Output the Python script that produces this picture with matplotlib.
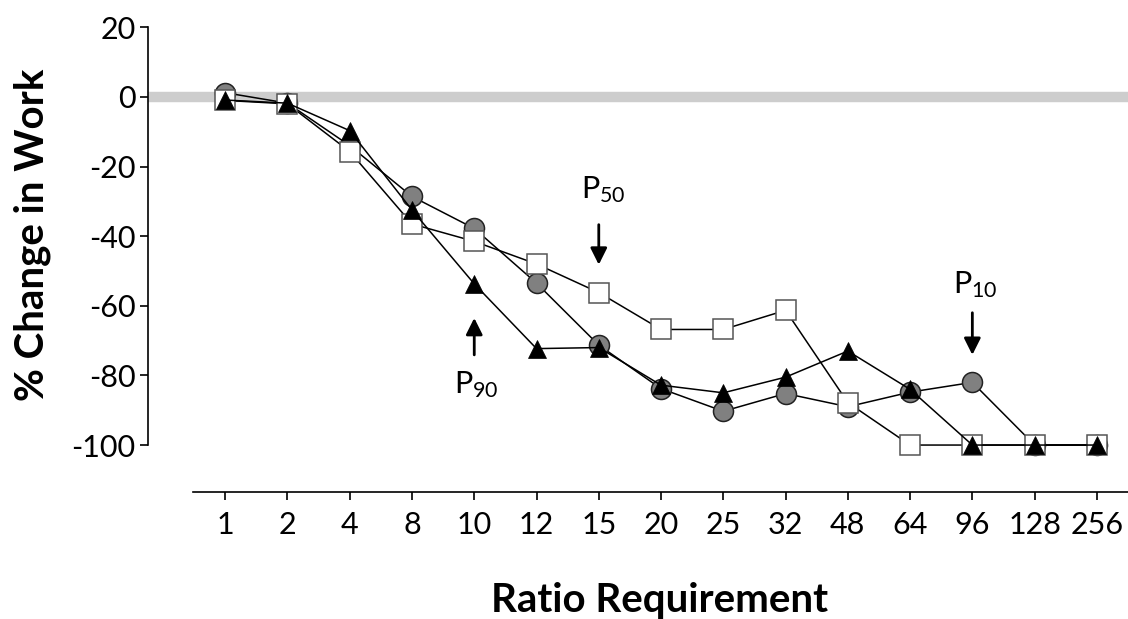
import matplotlib
matplotlib.use("Agg")
import matplotlib.pyplot as plt

# ratio requirements (evenly spaced categories)
ratios = ["1", "2", "4", "8", "10", "12", "15", "20", "25", "32", "48", "64", "96", "128", "256"]

# % change in work
circles = [1.2, -1.8, -14.0, -28.6, -37.8, -53.5, -71.3, -83.8, -90.3, -85.2, -89.0, -84.8, -82.0, -100, -100]
squares = [-1.0, -2.0, -15.7, -36.5, -41.5, -48.0, -56.2, -66.8, -66.8, -61.3, -87.8, -100, -100, -100, -100]
triangles = [-0.9, -1.8, -9.7, -32.5, -53.7, -72.3, -72.0, -82.8, -85.0, -80.5, -73.0, -84.0, -100, -100, -100]

plt.rcParams["font.family"] = ["Lato", "DejaVu Sans"]
plt.rcParams["mathtext.fontset"] = "custom"
plt.rcParams["mathtext.rm"] = "Lato"
plt.rcParams["mathtext.it"] = "Lato"
plt.rcParams["axes.unicode_minus"] = False

fig = plt.figure(figsize=(11.28, 6.19), dpi=100)
ax = fig.add_axes([148 / 1128, 1 - 491.7 / 619, 980 / 1128, 470.7 / 619])

x = list(range(len(ratios)))
ax.axhline(0, color="#cdcdcd", linewidth=7.5, zorder=1)

ax.plot(x, circles, color="black", lw=1.1, marker="o", ms=14.4,
        mfc="#808080", mec="#222222", mew=1.1, zorder=3)
ax.plot(x, squares, color="black", lw=1.1, marker="s", ms=14.4,
        mfc="white", mec="#555555", mew=1.1, zorder=4)
ax.plot(x, triangles, color="black", lw=1.1, marker="^", ms=13,
        mfc="black", mec="black", mew=0.5, zorder=5)

ax.set_xlim(-1.24, 14.5)
ax.set_ylim(-113.4, 21.8)
ax.set_xticks(x)
ax.set_xticklabels(ratios)
ax.set_yticks([20, 0, -20, -40, -60, -80, -100])

for side in ("top", "right"):
    ax.spines[side].set_visible(False)
ax.spines["left"].set_bounds(-100, 20)
ax.spines["bottom"].set_bounds(-0.52, 14.5)
ax.spines["left"].set_linewidth(1.2)
ax.spines["bottom"].set_linewidth(1.2)
ax.tick_params(axis="both", direction="out", length=6, width=1.2, labelsize=22)
ax.tick_params(axis="x", pad=8)
ax.tick_params(axis="y", pad=3)

ax.text(-0.118, 0.545, "% Change in Work", transform=ax.transAxes, rotation=90,
        ha="center", va="center", fontsize=29, fontweight="bold")
ax.text(0.522, -0.2556, "Ratio Requirement", transform=ax.transAxes,
        ha="center", va="baseline", fontsize=29, fontweight="bold")

arrow = dict(arrowstyle="-|>,head_length=1.0,head_width=0.5", color="black", lw=2,
             shrinkA=0, shrinkB=0)
ax.annotate("", xy=(6, -48.2), xytext=(6, -36.7), arrowprops=arrow)
ax.annotate("", xy=(4, -63.5), xytext=(4, -74.1), arrowprops=arrow)
ax.annotate("", xy=(12, -74.1), xytext=(12, -62.0), arrowprops=arrow)

ax.text(6.08, -26.7, r"P$_{50}$", ha="center", va="center", fontsize=22)
ax.text(4.03, -82.7, r"P$_{90}$", ha="center", va="center", fontsize=22)
ax.text(12.05, -54.0, r"P$_{10}$", ha="center", va="center", fontsize=22)

fig.savefig("out.png", dpi=100)
